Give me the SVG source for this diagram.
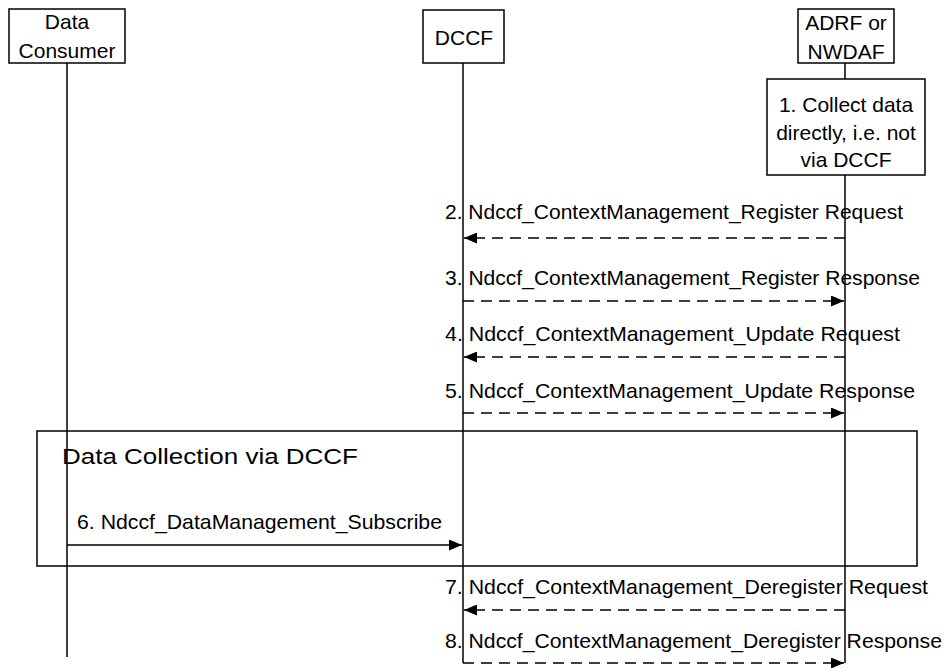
<svg xmlns="http://www.w3.org/2000/svg" width="943" height="668" viewBox="0 0 943 668">
<defs>
<style>
text{font-family:"Liberation Sans",Arial,sans-serif;font-size:21px;fill:#000}
.box{fill:#fff;stroke:#000;stroke-width:1.5}
.life{stroke:#000;stroke-width:1.5;fill:none}
.dash{stroke:#000;stroke-width:1.5;fill:none;stroke-dasharray:11 7}
.solid{stroke:#000;stroke-width:1.5;fill:none}
.frame{fill:none;stroke:#000;stroke-width:1.5}
.c{text-anchor:middle}
</style>
<marker id="ah" markerWidth="13" markerHeight="11" refX="13" refY="5.5" orient="auto" markerUnits="userSpaceOnUse">
<path d="M0,0 L13,5.5 L0,11 Z" fill="#000"/>
</marker>
</defs>
<rect width="943" height="668" fill="#fff"/>
<g id="lifelines">
<line class="life" x1="67" y1="63" x2="67" y2="657"/>
<line class="life" x1="463" y1="63" x2="463" y2="663"/>
<line class="life" x1="845" y1="63" x2="845" y2="663"/>
</g>
<g id="frame">
<rect class="frame" x="37" y="431" width="880" height="135"/>
<text x="62" y="464" style="font-size:22px" textLength="296" lengthAdjust="spacingAndGlyphs">Data Collection via DCCF</text>
</g>
<g id="node-consumer">
<rect class="box" x="9" y="9" width="116" height="54"/>
<text class="c" x="67" y="29">Data</text>
<text class="c" x="67" y="58">Consumer</text>
</g>
<g id="node-dccf">
<rect class="box" x="423" y="10" width="81" height="53"/>
<text class="c" x="464" y="45">DCCF</text>
</g>
<g id="node-adrf">
<rect class="box" x="798" y="9" width="96" height="54"/>
<text class="c" x="846" y="30">ADRF or</text>
<text class="c" x="846" y="59">NWDAF</text>
</g>
<g id="node-step1">
<rect class="box" x="767" y="79" width="158" height="96"/>
<text class="c" x="846" y="112">1. Collect data</text>
<text class="c" x="846" y="140">directly, i.e. not</text>
<text class="c" x="846" y="167">via DCCF</text>
</g>
<g id="connectors">
<line class="dash" x1="845" y1="238" x2="464" y2="238" marker-end="url(#ah)"/>
<line class="dash" x1="463" y1="301" x2="844" y2="301" marker-end="url(#ah)"/>
<line class="dash" x1="845" y1="357" x2="464" y2="357" marker-end="url(#ah)"/>
<line class="dash" x1="463" y1="413" x2="844" y2="413" marker-end="url(#ah)"/>
<line class="solid" x1="67" y1="545" x2="462" y2="545" marker-end="url(#ah)"/>
<line class="dash" x1="845" y1="610" x2="464" y2="610" marker-end="url(#ah)"/>
<line class="dash" x1="463" y1="663" x2="844" y2="663" marker-end="url(#ah)"/>
</g>
<g id="labels">
<text x="445" y="219" textLength="458" lengthAdjust="spacingAndGlyphs">2. Ndccf_ContextManagement_Register Request</text>
<text x="445" y="285" textLength="475" lengthAdjust="spacingAndGlyphs">3. Ndccf_ContextManagement_Register Response</text>
<text x="445" y="341" textLength="455" lengthAdjust="spacingAndGlyphs">4. Ndccf_ContextManagement_Update Request</text>
<text x="445" y="398" textLength="470" lengthAdjust="spacingAndGlyphs">5. Ndccf_ContextManagement_Update Response</text>
<text x="77" y="529" textLength="365" lengthAdjust="spacingAndGlyphs">6. Ndccf_DataManagement_Subscribe</text>
<text x="445" y="594" textLength="483" lengthAdjust="spacingAndGlyphs">7. Ndccf_ContextManagement_Deregister Request</text>
<text x="445" y="648" textLength="497" lengthAdjust="spacingAndGlyphs">8. Ndccf_ContextManagement_Deregister Response</text>
</g>
</svg>
